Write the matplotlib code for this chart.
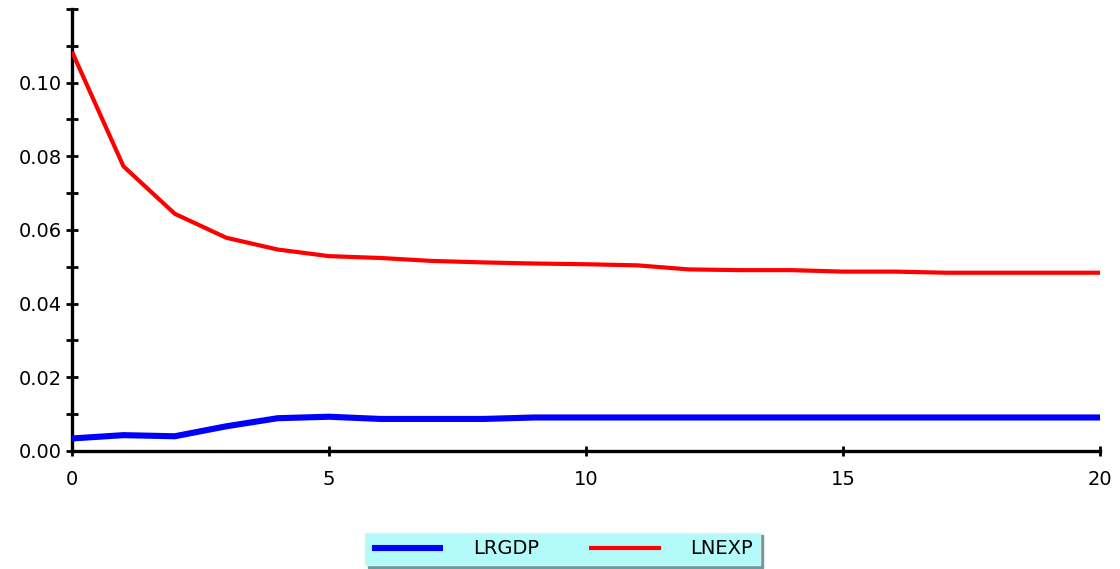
import matplotlib.pyplot as plt
from matplotlib.ticker import MultipleLocator

plt.rcParams['font.family'] = ['DejaVu Sans']

# 读取自图片的数值
periods = list(range(21))
lrgdp = [0.0034, 0.0043, 0.0040, 0.0067, 0.0089, 0.0093, 0.0087, 0.0087, 0.0087,
         0.0091, 0.0091, 0.0091, 0.0091, 0.0091, 0.0091, 0.0091, 0.0091, 0.0091,
         0.0091, 0.0091, 0.0091]
lnexp = [0.1084, 0.0773, 0.0644, 0.0579, 0.0547, 0.0529, 0.0524, 0.0516, 0.0512,
         0.0509, 0.0507, 0.0504, 0.0493, 0.0491, 0.0491, 0.0487, 0.0487, 0.0484,
         0.0484, 0.0484, 0.0484]
y_ticks = [0.00, 0.02, 0.04, 0.06, 0.08, 0.10, 0.12]
y_labels = ['0.00', '0.02', '0.04', '0.06', '0.08', '0.10', '']
x_ticks = [0, 5, 10, 15, 20]

fig = plt.figure(figsize=(11.2, 5.69), dpi=100)
ax = fig.add_axes([0.0643, 0.2074, 0.9179, 0.7768])

ax.plot(periods, lrgdp, color='#0000ff', lw=4.4, label='LRGDP', solid_capstyle='butt', zorder=3)
ax.plot(periods, lnexp, color='#ff0000', lw=3.0, label='LNEXP', solid_capstyle='butt', zorder=3)

ax.set_xlim(0, 20)
ax.set_ylim(0, 0.12)
ax.set_xticks(x_ticks)
ax.set_yticks(y_ticks)
ax.set_yticklabels(y_labels)
ax.yaxis.set_minor_locator(MultipleLocator(0.01))

for side in ['top', 'right']:
    ax.spines[side].set_visible(False)
for side in ['left', 'bottom']:
    ax.spines[side].set_linewidth(2.4)
    ax.spines[side].set_clip_on(False)

ax.tick_params(axis='y', which='both', direction='inout', length=9, width=2,
               labelsize=14, pad=3)
ax.tick_params(axis='x', which='both', direction='inout', length=7, width=2,
               labelsize=14, pad=10)

# 图例
leg = fig.legend(loc='lower center', bbox_to_anchor=(0.502, 0.0), ncol=2,
                 frameon=True, fancybox=False, shadow={'color': '#6f9a9a', 'alpha': 1.0},
                 handlelength=3.7, handletextpad=1.5, columnspacing=2.6,
                 fontsize=14, borderpad=0.35, borderaxespad=0.2)
leg.get_frame().set_facecolor('#b3fafa')
leg.get_frame().set_edgecolor('#d8f0f0')
leg.get_frame().set_linewidth(1.0)

fig.savefig('out.png', dpi=100)
